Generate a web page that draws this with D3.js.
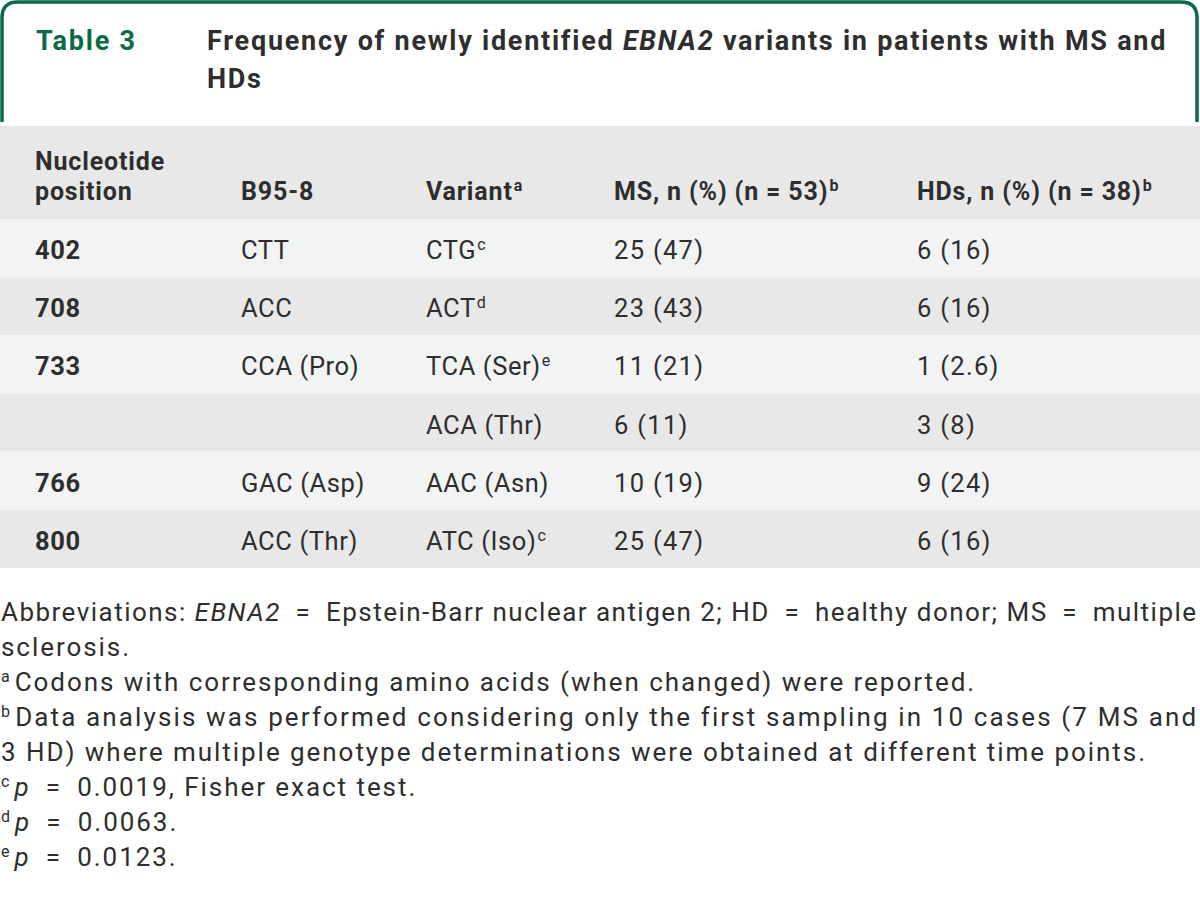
<!DOCTYPE html>
<html>
<head>
<meta charset="utf-8">
<script src="https://cdn.jsdelivr.net/npm/d3@7"></script>
<style>
  html, body { margin: 0; padding: 0; background: #fff; }
  svg { display: block; font-family: Roboto, "Liberation Sans", sans-serif; }
</style>
</head>
<body>
<div class="chart-wrapper"></div>
<script>
// table content, one array per column
const positions = ['402', '708', '733', '', '766', '800']
const b958 = ['CTT', 'ACC', 'CCA (Pro)', '', 'GAC (Asp)', 'ACC (Thr)']
const variants = ['CTG', 'ACT', 'TCA (Ser)', 'ACA (Thr)', 'AAC (Asn)', 'ATC (Iso)']
const variantSup = ['c', 'd', 'e', '', '', 'c']
const msCounts = ['25 (47)', '23 (43)', '11 (21)', '6 (11)', '10 (19)', '25 (47)']
const hdCounts = ['6 (16)', '6 (16)', '1 (2.6)', '3 (8)', '9 (24)', '6 (16)']

const headers = [
    [['Nucleotide'], ['position']],
    [['B95-8']],
    [['Variant', 'a']],
    [['MS, n (%) (n = 53)', 'b']],
    [['HDs, n (%) (n = 38)', 'b']]
]

const eq = '\u2002=\u2002'
// footnote lines: [sup, text segments [text, italic], justified]
const footnotes = [
    ['', [['Abbreviations: ', 0], ['EBNA2', 1], [`${eq}Epstein-Barr nuclear antigen 2; HD${eq}healthy donor; MS${eq}multiple`, 0]], true],
    ['', [['sclerosis.', 0]], false],
    ['a', [['Codons with corresponding amino acids (when changed) were reported.', 0]], false],
    ['b', [['Data analysis was performed considering only the first sampling in 10 cases (7 MS and', 0]], true],
    ['', [['3 HD) where multiple genotype determinations were obtained at different time points.', 0]], false],
    ['c', [['p', 1], [`${eq}0.0019, Fisher exact test.`, 0]], false],
    ['d', [['p', 1], [`${eq}0.0063.`, 0]], false],
    ['e', [['p', 1], [`${eq}0.0123.`, 0]], false]
]

const width = 1200
const height = 901
const green = '#0b6a47'
const ink = '#2e2e2e'

const svg = d3.select('.chart-wrapper').append('svg')
    .attr('width', width)
    .attr('height', height)

// green title frame with rounded top corners
const r = 16
svg.append('path')
    .attr('d', `M2,122 V${2 + r} Q2,2 ${2 + r},2 H${1197 - r} Q1197,2 1197,${2 + r} V122`)
    .attr('fill', 'none')
    .attr('stroke', green)
    .attr('stroke-width', 3.5)

svg.append('text')
    .attr('x', 36).attr('y', 50)
    .attr('fill', green)
    .style('font-weight', 'bold')
    .style('font-size', '27px')
    .style('letter-spacing', '1.8px')
    .text('Table 3')

const title = svg.append('text')
    .attr('x', 207).attr('y', 50)
    .attr('fill', ink)
    .style('font-weight', 'bold')
    .style('font-size', '27px')
    .style('letter-spacing', '1.75px')
title.append('tspan').text('Frequency of newly identified ')
title.append('tspan').style('font-style', 'italic').text('EBNA2')
title.append('tspan').text(' variants in patients with MS and')
svg.append('text')
    .attr('x', 207).attr('y', 88)
    .attr('fill', ink)
    .style('font-weight', 'bold')
    .style('font-size', '27px')
    .style('letter-spacing', '1.75px')
    .text('HDs')

// columns and rows
const colX = d3.scaleOrdinal().domain(d3.range(5)).range([35, 241, 426, 614, 917])
const y = d3.scaleBand().domain(d3.range(positions.length)).range([219, 568])

svg.append('rect')
    .attr('x', 0).attr('y', 126)
    .attr('width', width).attr('height', 219 - 126)
    .attr('fill', '#e8e8e8')

svg.selectAll('rect.row')
    .data(positions)
    .join('rect')
    .attr('class', 'row')
    .attr('x', 0)
    .attr('y', (d, i) => y(i))
    .attr('width', width)
    .attr('height', y.bandwidth())
    .attr('fill', (d, i) => i % 2 ? '#e8e8e8' : '#f2f3f3')

// header labels
headers.forEach((lines, c) => {
    lines.forEach((segs, li) => {
        const t = svg.append('text')
            .attr('x', colX(c))
            .attr('y', 200 - (lines.length - 1 - li) * 30)
            .attr('fill', ink)
            .style('font-weight', 'bold')
            .style('font-size', '25px')
            .style('letter-spacing', '0.85px')
        t.append('tspan').text(segs[0])
        if (segs[1]) t.append('tspan').attr('dy', -9).attr('dx', 1).style('font-size', '16px').text(segs[1])
    })
})

// body cells
const rows = positions.map((p, i) => [p, b958[i], variants[i], msCounts[i], hdCounts[i]])
const rowG = svg.selectAll('g.cells')
    .data(rows)
    .join('g')
    .attr('class', 'cells')
    .attr('transform', (d, i) => `translate(0, ${y(i) + y.bandwidth() / 2 + 11})`)

rowG.each(function(row, i) {
    const g = d3.select(this)
    row.forEach((val, c) => {
        const t = g.append('text')
            .attr('x', colX(c))
            .attr('fill', ink)
            .style('font-size', '25.5px')
            .style('letter-spacing', c >= 3 ? '1.3px' : '0.6px')
            .style('font-weight', c === 0 ? 'bold' : 'normal')
        t.append('tspan').text(val)
        if (c === 2 && variantSup[i]) t.append('tspan').attr('dy', -9).attr('dx', 1).style('font-size', '16px').text(variantSup[i])
    })
})

// footnotes
const fy = d3.scaleLinear().domain([0, footnotes.length - 1]).range([621, 866])
footnotes.forEach((f, i) => {
    const t = svg.append('text')
        .attr('x', 1)
        .attr('y', fy(i))
        .attr('fill', ink)
        .style('font-size', '26px')
        .style('letter-spacing', '1.95px')
    if (f[2]) t.attr('textLength', 1197).attr('lengthAdjust', 'spacing')
    if (f[0]) t.append('tspan').attr('dy', -9).style('font-size', '16px').style('letter-spacing', '0px').text(f[0])
    f[1].forEach((s, k) => {
        const ts = t.append('tspan').text(s[0]).style('font-style', s[1] ? 'italic' : 'normal')
        if (f[0] && k === 0) ts.attr('dx', 5).attr('dy', 9)
    })
})
</script>
</body>
</html>
